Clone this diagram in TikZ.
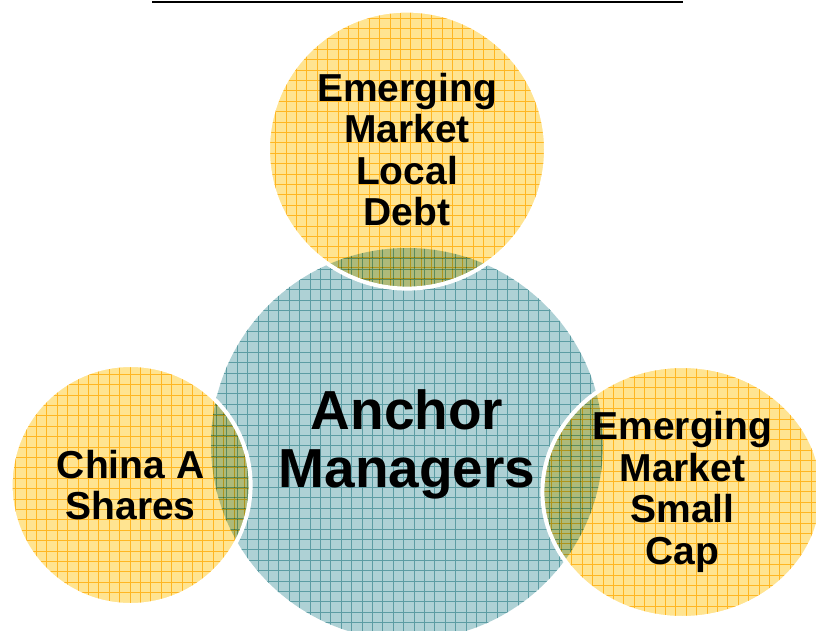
\documentclass[tikz,border=0pt]{standalone}
\usepackage{fontspec}
\setmainfont{Liberation Sans}
\usetikzlibrary{positioning,shapes.geometric}

\definecolor{sunfill}{RGB}{255,228,145}
\definecolor{sunline}{RGB}{255,204,60}
\definecolor{seafill}{RGB}{174,209,213}
\definecolor{sealine}{RGB}{92,156,163}

\tikzset{
  gridded/.style={path picture={\draw[#1, line width=0.4pt] (path picture bounding box.south west) grid[step=10.4pt] (path picture bounding box.north east);}},
  hub/.style={circle, fill=seafill, gridded=sealine, inner sep=0pt, minimum size=392pt, align=center, font=\bfseries\fontsize{55}{58}\selectfont},
  spoke/.style={circle, fill=sunfill, gridded=sunline, inner sep=0pt, align=center, font=\bfseries\fontsize{39}{41.5}\selectfont},
  ring/.style={draw=white, line width=4pt}
}

\begin{document}
\begin{tikzpicture}[x=1pt, y=-1pt]
    \useasboundingbox (0,0) rectangle (816,631);
    \clip (0,0) rectangle (816,631);

    % Rule
    \coordinate (rule west) at (152,2);
    \coordinate (rule east) at (683,2);
    \draw[line width=2pt] (rule west) -- (rule east);

    % Centre
    \node[hub] (anchor) at (407,444) {Anchor\\Managers};

    % Satellites
    \begin{scope}[blend mode=multiply]
        \node[spoke, minimum size=278pt, above=-41pt of anchor] (debt) {Emerging\\Market\\Local\\Debt};
        \node[spoke, minimum size=240pt, left=-40pt of anchor, yshift=-41pt] (china) {China A\\Shares};
        \node[spoke, ellipse, minimum width=280pt, minimum height=252pt, right=-61pt of anchor, yshift=-48pt] (smallcap) {Emerging\\Market\\Small\\Cap};
    \end{scope}

    % White rims
    \draw[ring] (debt.center) circle (139pt);
    \draw[ring] (china.center) circle (120pt);
    \draw[ring] (smallcap.center) ellipse [x radius=140pt, y radius=126pt];
\end{tikzpicture}
\end{document}
